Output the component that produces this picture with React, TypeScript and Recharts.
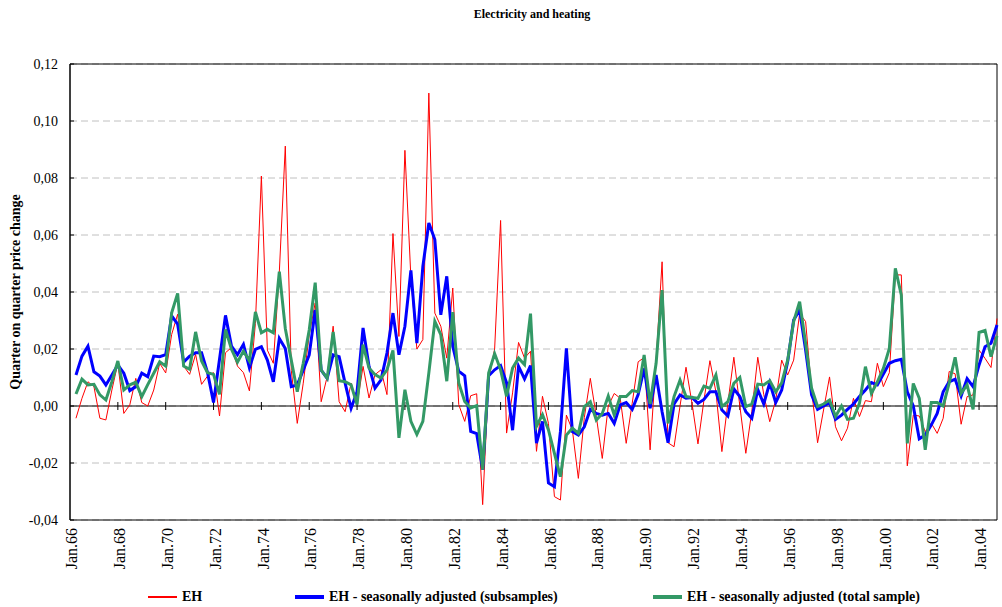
import { LineChart, Line, XAxis, YAxis, CartesianGrid, ReferenceLine, ReferenceArea } from 'recharts'

const FONT = '"Liberation Serif", "Times New Roman", serif'

// quarterly categories Jan.66 .. Oct.04
const MONTHS = ['Jan', 'Apr', 'Jul', 'Oct']
const quarters: string[] = []
for (let y = 1966; y <= 2004; y++) {
  for (const m of MONTHS) quarters.push(`${m}.${String(y % 100).padStart(2, '0')}`)
}

const yTicks = [-0.04, -0.02, 0, 0.02, 0.04, 0.06, 0.08, 0.1, 0.12]

// EH
const eh = [
  null, -0.0043, 0.0027, 0.0085, 0.0068, -0.0043, -0.0049, 0.0056, 0.015, -0.0026,
  0.0004, 0.0097, 0.0012, 0.0, 0.0056, 0.015, 0.0116, 0.0251, 0.0322, 0.014,
  0.0111, 0.0181, 0.0076, 0.0105, 0.0117, -0.0035, 0.0187, 0.0205, 0.014, 0.0117,
  0.0053, 0.029, 0.0807, 0.0196, 0.015, 0.047, 0.0912, 0.0125, -0.0061, 0.008,
  0.025, 0.0362, 0.0015, 0.0103, 0.028, 0.0015, -0.002, 0.008, 0.0005, 0.0139,
  0.0028, 0.011, 0.0127, 0.004, 0.0605, 0.0244, 0.0897, 0.045, 0.02, 0.0233,
  0.1098, 0.0326, 0.028, 0.0168, 0.0414, 0.0005, -0.0054, 0.0036, 0.0043, -0.0346,
  0.009, 0.02, 0.0651, -0.0095, 0.0046, 0.0223, 0.0168, 0.0192, -0.0159, 0.0034,
  -0.0061, -0.0318, -0.033, -0.0032, -0.0084, -0.0254, -0.004, 0.0097, -0.0037, -0.0184,
  0.0, 0.0044, 0.0027, -0.0131, 0.0009, 0.0155, 0.017, -0.0154, 0.016, 0.0506,
  -0.0129, -0.0143, 0.0, 0.0136, 0.001, -0.0133, 0.002, 0.0159, 0.005, -0.016,
  0.001, 0.0171, 0.0, -0.0166, -0.002, 0.0171, 0.004, -0.0055, 0.002, 0.0161,
  0.0109, 0.0161, 0.0325, 0.0296, 0.0056, -0.0129, -0.0014, 0.0102, -0.0073, -0.0122,
  -0.0078, 0.0027, -0.0037, 0.0019, 0.0015, 0.015, 0.0068, 0.0117, 0.046, 0.046,
  -0.021, -0.0032, -0.0035, -0.009, -0.006, -0.0096, -0.0043, 0.0121, 0.0113, -0.0064,
  0.0033, 0.0039, 0.0196, 0.0167, 0.0135, 0.0307,
]

// EH - seasonally adjusted (subsamples)
const ehSub = [
  null, 0.0109, 0.0175, 0.021, 0.012, 0.0105, 0.0074, 0.0109, 0.0144, 0.0115,
  0.0054, 0.0068, 0.0115, 0.0103, 0.0175, 0.0173, 0.018, 0.0316, 0.0287, 0.0154,
  0.0175, 0.0187, 0.0187, 0.0117, 0.0012, 0.0164, 0.0318, 0.021, 0.018, 0.0216,
  0.0134, 0.0199, 0.0208, 0.0161, 0.0085, 0.0237, 0.0202, 0.0068, 0.0074, 0.0126,
  0.0179, 0.0337, 0.0126, 0.0097, 0.0179, 0.0173, 0.008, -0.0008, 0.005, 0.0274,
  0.0139, 0.0063, 0.0092, 0.0186, 0.0326, 0.018, 0.028, 0.0476, 0.0221, 0.049,
  0.0642, 0.0584, 0.032, 0.0455, 0.021, 0.0122, 0.0106, -0.0089, -0.0097, -0.0223,
  0.0106, 0.0127, 0.0142, 0.0081, -0.0085, 0.0139, 0.0095, 0.0142, -0.013, -0.0054,
  -0.027, -0.0283, -0.009, 0.0202, -0.009, -0.0102, -0.0073, -0.0012, -0.0026, -0.0032,
  -0.0026, -0.0061, 0.0004, 0.0012, -0.0012, 0.004, 0.0132, -0.0008, 0.0109, -0.002,
  -0.0129, 0.0007, 0.0039, 0.0027, 0.003, 0.0009, 0.0023, 0.005, 0.005, -0.0014,
  -0.0035, 0.006, 0.0033, -0.002, -0.0043, 0.0058, 0.0007, 0.0081, 0.0012, 0.0056,
  0.0156, 0.0302, 0.0337, 0.0196, 0.0039, -0.0012, 0.0, 0.0012, -0.0047, -0.0032,
  -0.0012, 0.0007, 0.0033, 0.0056, 0.0082, 0.0074, 0.0112, 0.015, 0.0159, 0.0164,
  0.005, 0.0, -0.0115, -0.0102, -0.0067, -0.0026, 0.005, 0.0085, 0.0094, 0.0035,
  0.0096, 0.0068, 0.0144, 0.0208, 0.022, 0.0284,
]

// EH - seasonally adjusted (total sample)
const ehTotal = [
  null, 0.0042, 0.0094, 0.0074, 0.0076, 0.0039, 0.0021, 0.0085, 0.0158, 0.0056,
  0.0074, 0.0083, 0.0033, 0.0075, 0.0115, 0.0155, 0.014, 0.0327, 0.0395, 0.014,
  0.0129, 0.026, 0.0158, 0.0117, 0.0111, 0.0041, 0.0269, 0.0199, 0.0154, 0.0193,
  0.0158, 0.033, 0.0257, 0.0269, 0.0257, 0.0471, 0.0272, 0.0161, 0.005, 0.015,
  0.0267, 0.0433, 0.0126, 0.0097, 0.026, 0.0089, 0.0085, 0.0074, 0.0005, 0.0215,
  0.0133, 0.011, 0.0098, 0.0127, 0.0195, -0.0112, 0.0057, -0.0054, -0.01, -0.0054,
  0.0116, 0.0297, 0.025, 0.0087, 0.0329, 0.0081, 0.0016, -0.0007, 0.0001, -0.0223,
  0.0116, 0.0184, 0.0127, 0.0034, 0.0133, 0.0168, 0.0145, 0.0324, -0.0071, -0.003,
  -0.0084, -0.0166, -0.0248, -0.0102, -0.0078, -0.0096, -0.0002, 0.0015, -0.0049, -0.0026,
  0.0035, -0.0032, 0.0033, 0.0033, 0.0054, 0.005, 0.0179, 0.0007, 0.015, 0.0407,
  -0.0061, 0.0033, 0.0091, 0.0033, 0.003, 0.0027, 0.007, 0.0062, 0.0109, -0.0002,
  0.0015, 0.008, 0.01, -0.0002, 0.0007, 0.0077, 0.0074, 0.0089, 0.005, 0.0081,
  0.0161, 0.0296, 0.0366, 0.022, 0.0062, -0.0002, 0.0007, 0.0021, -0.0037, 0.0,
  -0.0047, -0.0043, 0.0009, 0.0138, 0.0044, 0.0085, 0.0132, 0.0202, 0.0483, 0.039,
  -0.0131, 0.0079, 0.0027, -0.0154, 0.0012, 0.0012, 0.0, 0.008, 0.0171, 0.0044,
  0.0074, -0.0012, 0.0258, 0.0265, 0.0173, 0.0246,
]

const data = quarters.map((q, i) => ({ q, eh: eh[i], sub: ehSub[i], total: ehTotal[i] }))

// every 8th quarter gets a label and a tick mark on the zero line
const markedQuarters = quarters.filter((_, i) => i % 8 === 0 && i > 0)

const fmt = (v: number) => v.toFixed(2).replace('.', ',')

const XTick = (props: any) => {
  const { x, y, payload } = props
  return (
    <text
      x={x}
      y={y}
      transform={`rotate(-90, ${x}, ${y})`}
      textAnchor="end"
      dy="0.45em"
      fontSize={16}
      fontFamily={FONT}
      fill="#000"
    >
      {payload.value}
    </text>
  )
}

const legendItems = [
  { label: 'EH', color: '#ff0000', width: 2, left: 148 },
  { label: 'EH - seasonally adjusted (subsamples)', color: '#0000ff', width: 4, left: 295 },
  { label: 'EH - seasonally adjusted (total sample)', color: '#339966', width: 4, left: 653 },
]

export default function App() {
  return (
    <div style={{ position: 'absolute', left: 0, top: 0, width: 1002, height: 607, background: '#fff', fontFamily: FONT }}>
      <div style={{ position: 'absolute', top: 7, left: 0, width: 1064, textAlign: 'center', fontSize: 12, fontWeight: 'bold' }}>
        Electricity and heating
      </div>
      <div
        style={{
          position: 'absolute',
          left: 16,
          top: 292,
          transform: 'translate(-50%, -50%) rotate(-90deg)',
          whiteSpace: 'nowrap',
          fontSize: 14,
          fontWeight: 'bold',
        }}
      >
        Quarter on quarter price change
      </div>

      <LineChart width={1002} height={607} data={data} margin={{ top: 64, right: 5, bottom: 0, left: 0 }}>
        <CartesianGrid vertical={false} stroke="#c0c0c0" strokeDasharray="7 4" />
        <XAxis
          dataKey="q"
          interval={7}
          height={87}
          tickSize={0}
          tickMargin={8}
          axisLine={false}
          tickLine={false}
          tick={<XTick />}
        />
        <YAxis
          width={70}
          domain={[-0.04, 0.12]}
          ticks={yTicks}
          tickFormatter={fmt}
          tickSize={-4}
          tickMargin={16}
          axisLine={{ stroke: '#000' }}
          tickLine={{ stroke: '#000' }}
          tick={{ fontSize: 14, fontFamily: FONT, fill: '#000' }}
        />
        <ReferenceArea
          x1={quarters[0]}
          x2={quarters[quarters.length - 1]}
          y1={-0.04}
          y2={0.12}
          fill="none"
          fillOpacity={0}
          stroke="#000"
          strokeOpacity={1}
        />
        <ReferenceLine y={0} stroke="#000" />
        {markedQuarters.map((q) => (
          <ReferenceLine
            key={q}
            segment={[{ x: q, y: -0.0014 }, { x: q, y: 0.0014 }]}
            stroke="#000"
          />
        ))}
        <Line dataKey="eh" stroke="#ff0000" strokeWidth={1} dot={false} isAnimationActive={false} />
        <Line dataKey="sub" stroke="#0000ff" strokeWidth={3} dot={false} isAnimationActive={false} />
        <Line dataKey="total" stroke="#339966" strokeWidth={3} dot={false} isAnimationActive={false} />
      </LineChart>

      {legendItems.map((it) => (
        <div key={it.label} style={{ position: 'absolute', left: it.left, top: 588, height: 18, display: 'flex', alignItems: 'center' }}>
          <div style={{ width: 29, height: it.width, background: it.color, marginRight: 5 }} />
          <span style={{ fontSize: 14, fontWeight: 'bold' }}>{it.label}</span>
        </div>
      ))}
    </div>
  )
}
